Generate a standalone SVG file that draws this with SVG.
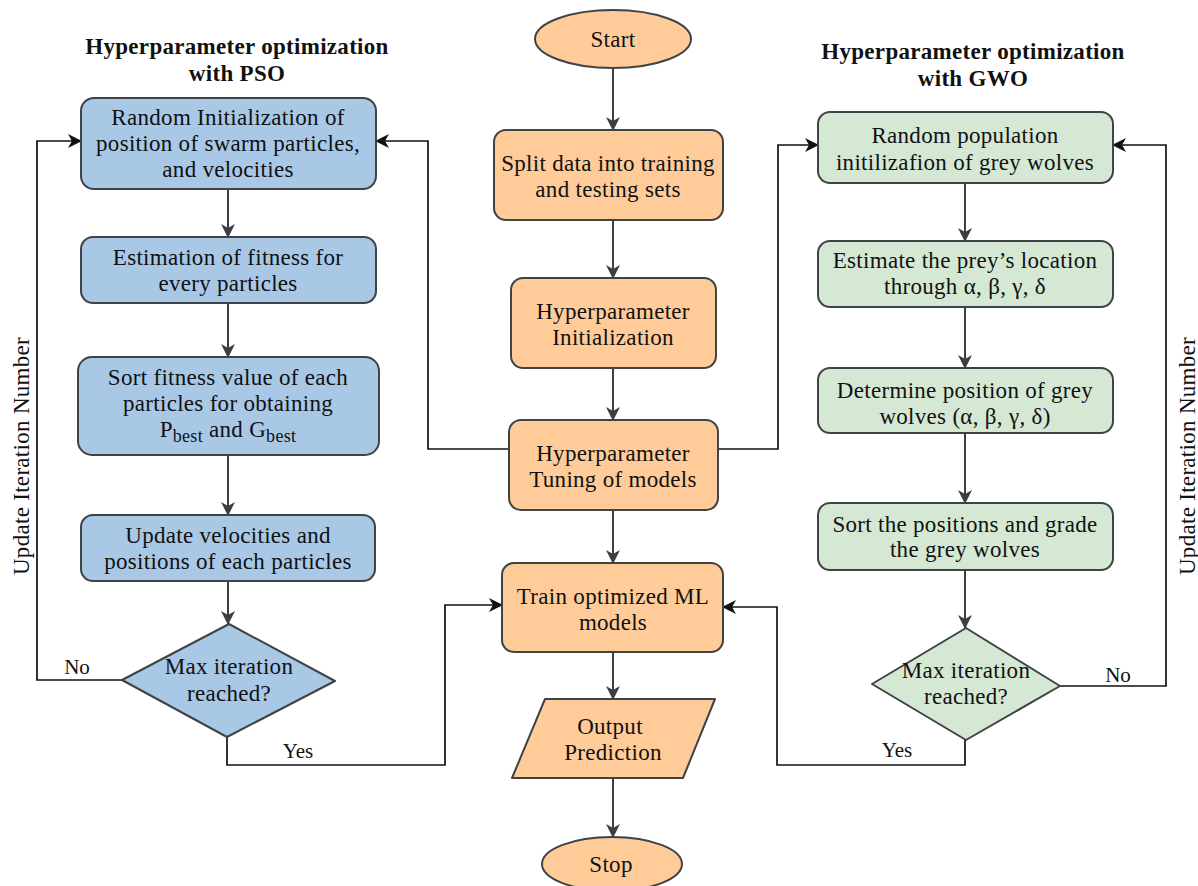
<svg xmlns="http://www.w3.org/2000/svg" width="1198" height="886" viewBox="0 0 1198 886">
<defs>
<style>
.t{font-family:"Liberation Serif","Times New Roman",serif;font-size:23px;fill:#111;text-anchor:middle;letter-spacing:0.3px}
.h{font-family:"Liberation Serif","Times New Roman",serif;font-size:23px;font-weight:bold;fill:#111;text-anchor:middle;letter-spacing:0.3px}
.lb{font-family:"Liberation Serif","Times New Roman",serif;font-size:21px;fill:#111;text-anchor:middle}
.blue{fill:#a8c8e6;stroke:#3f4346;stroke-width:2}
.orange{fill:#ffcc99;stroke:#3f4346;stroke-width:2}
.green{fill:#d5e8d4;stroke:#3f4346;stroke-width:2}
.v{fill:none;stroke:#3b3f44;stroke-width:2;marker-end:url(#ah)}
.loop{fill:none;stroke:#111;stroke-width:1.7;marker-end:url(#ak)}
</style>
<marker id="ah" viewBox="0 0 14 14" refX="13" refY="7" markerWidth="14" markerHeight="14" markerUnits="userSpaceOnUse" orient="auto">
<path d="M0,0 L14,7 L0,14 L4,7 Z" fill="#3b3f44"/>
</marker>
<marker id="ak" viewBox="0 0 14 14" refX="13" refY="7" markerWidth="14" markerHeight="14" markerUnits="userSpaceOnUse" orient="auto">
<path d="M0,0 L14,7 L0,14 L4,7 Z" fill="#111"/>
</marker>
</defs>
<rect width="1198" height="886" fill="#ffffff"/>

<g id="titles">
<text class="h" x="237" y="54">Hyperparameter optimization</text>
<text class="h" x="237" y="81">with PSO</text>
<text class="h" x="973" y="59">Hyperparameter optimization</text>
<text class="h" x="973" y="86">with GWO</text>
</g>

<g id="connectors">
<path class="v" d="M613,68 V130"/>
<path class="v" d="M613,220 V278"/>
<path class="v" d="M613,368 V420"/>
<path class="v" d="M613,510 V563"/>
<path class="v" d="M613,652 V699"/>
<path class="v" d="M613,778 V837"/>
<path class="v" d="M228,189 V237"/>
<path class="v" d="M228,303 V357"/>
<path class="v" d="M228,455 V515"/>
<path class="v" d="M228,581 V624"/>
<path class="v" d="M965,183 V241"/>
<path class="v" d="M965,307 V368"/>
<path class="v" d="M965,433 V503"/>
<path class="v" d="M965,570 V628"/>
<path class="loop" d="M122,680 H37 V141 H81"/>
<path class="loop" d="M509,449 H428 V141 H376"/>
<path class="loop" d="M227,737 V765 H445 V605 H502"/>
<path class="loop" d="M718,449 H778 V145 H818"/>
<path class="loop" d="M1060,686 H1166 V145 H1113"/>
<path class="loop" d="M965,740 V765 H777 V607 H723"/>
</g>

<g id="labels">
<text class="lb" x="77" y="674">No</text>
<text class="lb" x="298" y="758">Yes</text>
<text class="lb" x="1118" y="682">No</text>
<text class="lb" x="897" y="757">Yes</text>
<text class="t" transform="translate(29,456) rotate(-90)" x="0" y="0">Update Iteration Number</text>
<text class="t" transform="translate(1195,456) rotate(-90)" x="0" y="0">Update Iteration Number</text>
</g>

<g id="start">
<ellipse class="orange" cx="613" cy="39" rx="78" ry="29"/>
<text class="t" x="613" y="47">Start</text>
</g>
<g id="split">
<rect class="orange" x="494" y="130" width="229" height="90" rx="12"/>
<text class="t" x="608" y="171">Split data into training</text>
<text class="t" x="608" y="197">and testing sets</text>
</g>
<g id="hinit">
<rect class="orange" x="511" y="278" width="205" height="90" rx="12"/>
<text class="t" x="613" y="319">Hyperparameter</text>
<text class="t" x="613" y="345">Initialization</text>
</g>
<g id="tuning">
<rect class="orange" x="509" y="420" width="209" height="90" rx="12"/>
<text class="t" x="613" y="461">Hyperparameter</text>
<text class="t" x="613" y="487">Tuning of models</text>
</g>
<g id="train">
<rect class="orange" x="502" y="563" width="221" height="89" rx="12"/>
<text class="t" x="613" y="604">Train optimized ML</text>
<text class="t" x="613" y="630">models</text>
</g>
<g id="output">
<path class="orange" d="M545,699 H715 L683,778 H512 Z" stroke-linejoin="round"/>
<text class="t" x="610" y="734">Output</text>
<text class="t" x="613" y="760">Prediction</text>
</g>
<g id="stop">
<ellipse class="orange" cx="612" cy="864" rx="70" ry="27"/>
<text class="t" x="611" y="872">Stop</text>
</g>

<g id="pso1">
<rect class="blue" x="81" y="98" width="295" height="91" rx="13"/>
<text class="t" x="228" y="125">Random Initialization of</text>
<text class="t" x="228" y="151">position of swarm particles,</text>
<text class="t" x="228" y="177">and velocities</text>
</g>
<g id="pso2">
<rect class="blue" x="81" y="237" width="295" height="66" rx="12"/>
<text class="t" x="228" y="265">Estimation of fitness for</text>
<text class="t" x="228" y="291">every particles</text>
</g>
<g id="pso3">
<rect class="blue" x="78" y="357" width="301" height="98" rx="14"/>
<text class="t" x="228" y="385">Sort fitness value of each</text>
<text class="t" x="228" y="411">particles for obtaining</text>
<text class="t" x="228" y="437">P<tspan font-size="18" dy="5">best</tspan><tspan dy="-5"> and G</tspan><tspan font-size="18" dy="5">best</tspan></text>
</g>
<g id="pso4">
<rect class="blue" x="81" y="515" width="294" height="66" rx="12"/>
<text class="t" x="228" y="543">Update velocities and</text>
<text class="t" x="228" y="569">positions of each particles</text>
</g>
<g id="pso5">
<path class="blue" d="M229,624 L335,681 L227,737 L122,680 Z" stroke-linejoin="round"/>
<text class="t" x="229" y="674">Max iteration</text>
<text class="t" x="229" y="701">reached?</text>
</g>

<g id="gwo1">
<rect class="green" x="818" y="112" width="295" height="71" rx="12"/>
<text class="t" x="965" y="143">Random population</text>
<text class="t" x="965" y="170">initilizafion of grey wolves</text>
</g>
<g id="gwo2">
<rect class="green" x="818" y="241" width="295" height="66" rx="12"/>
<text class="t" x="965" y="268">Estimate the prey’s location</text>
<text class="t" x="965" y="294">through α, β, γ, δ</text>
</g>
<g id="gwo3">
<rect class="green" x="818" y="368" width="295" height="65" rx="12"/>
<text class="t" x="965" y="398">Determine position of grey</text>
<text class="t" x="965" y="424">wolves (α, β, γ, δ)</text>
</g>
<g id="gwo4">
<rect class="green" x="818" y="503" width="295" height="67" rx="12"/>
<text class="t" x="965" y="532">Sort the positions and grade</text>
<text class="t" x="965" y="557">the grey wolves</text>
</g>
<g id="gwo5">
<path class="green" d="M966,628 L1060,686 L966,740 L872,684 Z" stroke-linejoin="round"/>
<text class="t" x="966" y="678">Max iteration</text>
<text class="t" x="966" y="704">reached?</text>
</g>
</svg>
